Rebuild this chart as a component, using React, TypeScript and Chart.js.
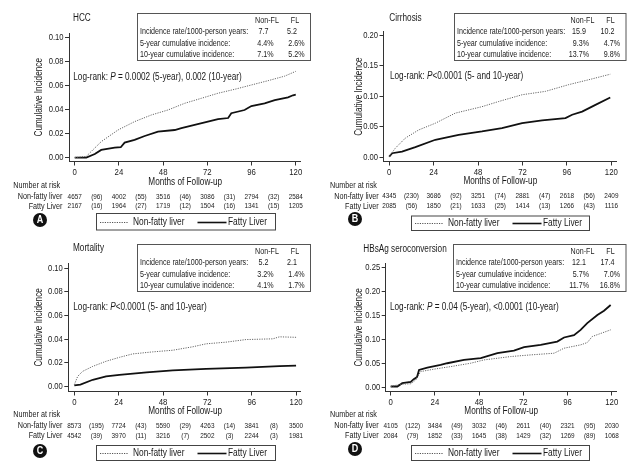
import React, { useEffect, useRef } from "react";
import { Chart, registerables } from "chart.js";

Chart.register(...registerables);

const FONT = "'Liberation Sans', Arial, sans-serif";
const NARROW = 0.82; // emulate a condensed face by horizontal scaling
const fnt = (size: number, extra = "") => `${extra} ${size}px ${FONT}`.trim();

// ---------- Data ----------
const X_TICKS = [0, 24, 48, 72, 96, 120];
const RISK_MONTHS = [0, 12, 24, 36, 48, 60, 72, 84, 96, 108, 120];
const GROUPS = ["Non-fatty liver", "Fatty Liver"];
const INFO_HEADERS = ["Non-FL", "FL"];
const INFO_ROWS = ["Incidence rate/1000-person years:", "5-year cumulative incidence:", "10-year cumulative incidence:"];

// Panel A: HCC
const A_NONFL_X = [0, 6.3, 14.4, 23.5, 32.5, 41.7, 50.6, 59.7, 68.8, 77.8, 86.9, 95.9, 105, 114, 120];
const A_NONFL_Y = [0, 0.001, 0.0133, 0.023, 0.03, 0.0356, 0.0397, 0.0453, 0.0495, 0.0537, 0.057, 0.0606, 0.0642, 0.068, 0.072];
const A_FL_X = [0, 6.3, 10.9, 14.4, 21.7, 25, 27.1, 32.5, 38, 45.2, 54.3, 57.9, 65.1, 72.3, 77.8, 83.3, 85, 92.2, 95.9, 103.1, 108.6, 115.8, 118.5, 120];
const A_FL_Y = [0, 0, 0.003, 0.0064, 0.0083, 0.0086, 0.0125, 0.0147, 0.018, 0.0217, 0.023, 0.0245, 0.0272, 0.03, 0.032, 0.033, 0.037, 0.0397, 0.043, 0.0453, 0.048, 0.0503, 0.052, 0.0525];
const A_RISK_NONFL = ["4657", "(96)", "4002", "(55)", "3516", "(46)", "3086", "(31)", "2794", "(32)", "2584"];
const A_RISK_FL = ["2167", "(16)", "1964", "(27)", "1719", "(12)", "1504", "(16)", "1341", "(15)", "1205"];
const A_INFO = [["7.7", "5.2"], ["4.4%", "2.6%"], ["7.1%", "5.2%"]];
const A_LOGRANK = ["Log-rank: ", "P", " = 0.0002 (5-year), 0.002 (10-year)"];
const A_Y_TICKS = [0, 0.02, 0.04, 0.06, 0.08, 0.1];

// Panel B: Cirrhosis
const B_NONFL_X = [0, 3.3, 8.7, 15.9, 24.9, 35.7, 50.1, 59.2, 71.8, 84.4, 97, 107.8, 119.4];
const B_NONFL_Y = [0.0016, 0.0153, 0.0317, 0.045, 0.056, 0.0725, 0.083, 0.0915, 0.1025, 0.108, 0.119, 0.127, 0.136];
const B_FL_X = [0, 1.6, 6.9, 14.1, 24.9, 37.5, 50.1, 60.9, 71.8, 82.6, 95.2, 98.8, 104.2, 111.4, 119.4];
const B_FL_Y = [0.0016, 0.007, 0.0098, 0.017, 0.029, 0.037, 0.0425, 0.048, 0.056, 0.0605, 0.0644, 0.0698, 0.075, 0.086, 0.098];
const B_RISK_NONFL = ["4345", "(230)", "3686", "(92)", "3251", "(74)", "2881", "(47)", "2618", "(56)", "2409"];
const B_RISK_FL = ["2085", "(56)", "1850", "(21)", "1633", "(25)", "1414", "(13)", "1266", "(43)", "1116"];
const B_INFO = [["15.9", "10.2"], ["9.3%", "4.7%"], ["13.7%", "9.8%"]];
const B_LOGRANK = ["Log-rank: ", "P", "<0.0001 (5- and 10-year)"];
const B_Y_TICKS = [0, 0.05, 0.1, 0.15, 0.2];

// Panel C: Mortality
const C_NONFL_X = [0, 1.8, 4.5, 10, 17.2, 24.4, 31.6, 42.4, 53.3, 64.1, 71.3, 82.1, 92.9, 107.4, 111, 120];
const C_NONFL_Y = [0.0016, 0.0086, 0.0129, 0.0171, 0.0214, 0.0247, 0.0276, 0.0293, 0.0307, 0.0336, 0.0361, 0.0375, 0.0397, 0.0403, 0.042, 0.0416];
const C_FL_X = [0, 3.3, 10, 17.2, 24.4, 39.1, 53.3, 71.3, 92.9, 111, 120];
const C_FL_Y = [0.001, 0.0017, 0.0058, 0.0086, 0.01, 0.012, 0.0137, 0.015, 0.016, 0.0173, 0.0178];
const C_RISK_NONFL = ["8573", "(195)", "7724", "(43)", "5590", "(29)", "4263", "(14)", "3841", "(8)", "3500"];
const C_RISK_FL = ["4542", "(39)", "3970", "(11)", "3216", "(7)", "2502", "(3)", "2244", "(3)", "1981"];
const C_INFO = [["5.2", "2.1"], ["3.2%", "1.4%"], ["4.1%", "1.7%"]];
const C_LOGRANK = ["Log-rank: ", "P", "<0.0001 (5- and 10-year)"];
const C_Y_TICKS = [0, 0.02, 0.04, 0.06, 0.08, 0.1];

// Panel D: HBsAg seroconversion
const D_NONFL_X = [0, 5.4, 10.9, 13.6, 16.3, 23.5, 32.6, 43.4, 50.7, 65.1, 76, 88.7, 94.1, 103.1, 106.7, 109.4, 119.4];
const D_NONFL_Y = [0.0013, 0.006, 0.007, 0.015, 0.0326, 0.0376, 0.043, 0.05, 0.057, 0.064, 0.0675, 0.071, 0.0815, 0.0885, 0.0933, 0.106, 0.12];
const D_FL_X = [0, 3.6, 6.3, 10.9, 12.5, 14.3, 15.4, 19.9, 27.1, 30.7, 39.8, 48.9, 57.9, 66.9, 72.4, 81.4, 90.4, 94.1, 99.5, 103.1, 106.7, 112.2, 115.8, 119.4];
const D_FL_Y = [0.0013, 0.0013, 0.0083, 0.011, 0.0167, 0.021, 0.036, 0.041, 0.0466, 0.05, 0.057, 0.0606, 0.071, 0.0766, 0.0836, 0.0885, 0.0955, 0.104, 0.109, 0.12, 0.134, 0.151, 0.16, 0.172];
const D_RISK_NONFL = ["4105", "(122)", "3484", "(49)", "3032", "(46)", "2611", "(40)", "2321", "(95)", "2030"];
const D_RISK_FL = ["2084", "(79)", "1852", "(33)", "1645", "(38)", "1429", "(32)", "1269", "(89)", "1068"];
const D_INFO = [["12.1", "17.4"], ["5.7%", "7.0%"], ["11.7%", "16.8%"]];
const D_LOGRANK = ["Log-rank: ", "P", " = 0.04 (5-year), <0.0001 (10-year)"];
const D_Y_TICKS = [0, 0.05, 0.1, 0.15, 0.2, 0.25];

// ---------- Panel layout (positions/styles only) ----------
type Panel = {
  key: string; letter: string; title: string; ox: number; oy: number;
  nx: number[]; ny: number[]; fx: number[]; fy: number[];
  riskN: string[]; riskF: string[]; info: string[][]; logrank: string[]; yTicks: number[];
  area: { left: number; right: number; top: number; bottom: number };
  xMin: number; xMax: number; yMin: number; yMax: number;
  titlePos: [number, number]; box: [number, number, number, number]; lrPos: [number, number];
  xTitleY: number; riskHead: [number, number]; riskLabelRight: number; riskRows: [number, number];
  circle: [number, number]; legend: [number, number, number, number];
};

const PANELS: Panel[] = [
  {
    key: "A", letter: "A", title: "HCC", ox: 0, oy: 0,
    nx: A_NONFL_X, ny: A_NONFL_Y, fx: A_FL_X, fy: A_FL_Y, riskN: A_RISK_NONFL, riskF: A_RISK_FL,
    info: A_INFO, logrank: A_LOGRANK, yTicks: A_Y_TICKS,
    area: { left: 69, right: 300, top: 33, bottom: 161.5 },
    xMin: -3.1, xMax: 122.3, yMin: -0.0033, yMax: 0.104,
    titlePos: [73, 18], box: [137.5, 13.5, 173, 47], lrPos: [73.3, 77.3],
    xTitleY: 182.3, riskHead: [13.3, 186], riskLabelRight: 62.3, riskRows: [196.7, 206.3],
    circle: [40, 220], legend: [96.5, 213.5, 179, 16.5],
  },
  {
    key: "B", letter: "B", title: "Cirrhosis", ox: 320, oy: 0,
    nx: B_NONFL_X, ny: B_NONFL_Y, fx: B_FL_X, fy: B_FL_Y, riskN: B_RISK_NONFL, riskF: B_RISK_FL,
    info: B_INFO, logrank: B_LOGRANK, yTicks: B_Y_TICKS,
    area: { left: 63.5, right: 296, top: 31.7, bottom: 161.5 },
    xMin: -3.1, xMax: 122.5, yMin: -0.0065, yMax: 0.2054,
    titlePos: [69.3, 18], box: [134.5, 13.5, 171.5, 47], lrPos: [70, 76.7],
    xTitleY: 181.7, riskHead: [10, 186], riskLabelRight: 58.7, riskRows: [196.3, 206.3],
    circle: [35, 219], legend: [91.5, 216, 178, 14.5],
  },
  {
    key: "C", letter: "C", title: "Mortality", ox: 0, oy: 234,
    nx: C_NONFL_X, ny: C_NONFL_Y, fx: C_FL_X, fy: C_FL_Y, riskN: C_RISK_NONFL, riskF: C_RISK_FL,
    info: C_INFO, logrank: C_LOGRANK, yTicks: C_Y_TICKS,
    area: { left: 68.3, right: 300.5, top: 29.3, bottom: 157.5 },
    xMin: -3.25, xMax: 122.4, yMin: -0.0041, yMax: 0.104,
    titlePos: [73, 14.3], box: [137.5, 10.5, 173, 47], lrPos: [73.3, 73.7],
    xTitleY: 177, riskHead: [13.3, 181], riskLabelRight: 62.3, riskRows: [191.7, 201.7],
    circle: [40, 217], legend: [96.5, 211.5, 179, 15],
  },
  {
    key: "D", letter: "D", title: "HBsAg seroconversion", ox: 320, oy: 234,
    nx: D_NONFL_X, ny: D_NONFL_Y, fx: D_FL_X, fy: D_FL_Y, riskN: D_RISK_NONFL, riskF: D_RISK_FL,
    info: D_INFO, logrank: D_LOGRANK, yTicks: D_Y_TICKS,
    area: { left: 65.7, right: 296, top: 29.3, bottom: 157.5 },
    xMin: -2.7, xMax: 122.3, yMin: -0.0092, yMax: 0.2594,
    titlePos: [43.3, 15], box: [133.5, 10.5, 172.5, 47], lrPos: [70, 73.7],
    xTitleY: 177.7, riskHead: [10, 181], riskLabelRight: 58.7, riskRows: [191.7, 201.7],
    circle: [35, 215], legend: [91.5, 211.5, 178, 15],
  },
];

const W = 320;
const H = 234;
const TEXT = "#1a1a1a";

// draw condensed text: returns drawn width
function txt(
  ctx: CanvasRenderingContext2D, s: string, x: number, y: number,
  align: CanvasTextAlign, size: number, extra = "", squeeze = NARROW,
): number {
  ctx.save();
  ctx.font = fnt(size, extra);
  ctx.textAlign = align;
  ctx.textBaseline = "middle";
  ctx.translate(x, y);
  ctx.scale(squeeze, 1);
  ctx.fillText(s, 0, 0);
  const w = ctx.measureText(s).width * squeeze;
  ctx.restore();
  return w;
}

function makeDecor(p: Panel) {
  return {
    id: "decor" + p.key,
    afterDraw(chart: any) {
      const ctx: CanvasRenderingContext2D = chart.ctx;
      const xs = chart.scales.x;
      const ys = chart.scales.y;
      const ca = chart.chartArea;
      ctx.save();
      ctx.fillStyle = TEXT;

      // tick labels
      X_TICKS.forEach((v) => txt(ctx, String(v), xs.getPixelForValue(v), ca.bottom + 10.5, "center", 9.5));
      p.yTicks.forEach((v) => txt(ctx, v.toFixed(2), ca.left - 5.5, ys.getPixelForValue(v), "right", 9.3));

      // title
      txt(ctx, p.title, p.titlePos[0], p.titlePos[1], "left", 10);

      // y title (rotated)
      ctx.save();
      ctx.translate(38.8, (ca.top + ca.bottom) / 2);
      ctx.rotate(-Math.PI / 2);
      txt(ctx, "Cumulative Incidence", 0, 0, "center", 10);
      ctx.restore();

      // x title
      const x0 = xs.getPixelForValue(0);
      const x120 = xs.getPixelForValue(120);
      txt(ctx, "Months of Follow-up", (x0 + x120) / 2, p.xTitleY, "center", 10);

      // info box
      const [bx, by, bw, bh] = p.box;
      ctx.strokeStyle = "#555";
      ctx.lineWidth = 1;
      ctx.strokeRect(bx, by, bw, bh);
      txt(ctx, INFO_HEADERS[0], bx + bw - 43.5, by + 7.3, "center", 8.7);
      txt(ctx, INFO_HEADERS[1], bx + bw - 15.5, by + 7.3, "center", 8.7);
      const rowY = [by + 17.7, by + 30, by + 41];
      INFO_ROWS.forEach((r, i) => {
        txt(ctx, r, bx + 2.5, rowY[i], "left", 8.7);
        if (i === 0) {
          txt(ctx, p.info[i][0], bx + bw - 47, rowY[i], "center", 8.7);
          txt(ctx, p.info[i][1], bx + bw - 18.5, rowY[i], "center", 8.7);
        } else {
          txt(ctx, p.info[i][0], bx + bw - 37, rowY[i], "right", 8.7);
          txt(ctx, p.info[i][1], bx + bw - 6, rowY[i], "right", 8.7);
        }
      });

      // log-rank text with italic P
      let lx = p.lrPos[0];
      p.logrank.forEach((part, i) => {
        lx += txt(ctx, part, lx, p.lrPos[1], "left", 10, i === 1 ? "italic" : "");
      });

      // risk table
      txt(ctx, "Number at risk", p.riskHead[0], p.riskHead[1], "left", 8.8);
      txt(ctx, GROUPS[0], p.riskLabelRight, p.riskRows[0], "right", 8.8);
      txt(ctx, GROUPS[1], p.riskLabelRight, p.riskRows[1], "right", 8.8);
      RISK_MONTHS.forEach((m, i) => {
        const px = xs.getPixelForValue(m);
        txt(ctx, p.riskN[i], px, p.riskRows[0], "center", 7.8);
        txt(ctx, p.riskF[i], px, p.riskRows[1], "center", 7.8);
      });

      // circle letter
      ctx.beginPath();
      ctx.arc(p.circle[0], p.circle[1], 7, 0, Math.PI * 2);
      ctx.fillStyle = "#111";
      ctx.fill();
      ctx.fillStyle = "#fff";
      txt(ctx, p.letter, p.circle[0], p.circle[1] + 0.5, "center", 10, "bold", 0.9);
      ctx.fillStyle = TEXT;

      // legend box
      const [gx, gy, gw, gh] = p.legend;
      ctx.strokeStyle = "#444";
      ctx.lineWidth = 1;
      ctx.strokeRect(gx, gy, gw, gh);
      const gyc = Math.round(gy + gh / 2) + 0.5;
      ctx.beginPath();
      ctx.setLineDash([1.2, 1.2]);
      ctx.strokeStyle = "#555";
      ctx.moveTo(gx + 3.5, gyc);
      ctx.lineTo(gx + 31.5, gyc);
      ctx.stroke();
      ctx.setLineDash([]);
      ctx.beginPath();
      ctx.strokeStyle = "#111";
      ctx.lineWidth = 1.6;
      ctx.moveTo(gx + 101, gyc);
      ctx.lineTo(gx + 130, gyc);
      ctx.stroke();
      txt(ctx, GROUPS[0], gx + 36.5, gyc, "left", 10.2);
      txt(ctx, GROUPS[1], gx + 131.5, gyc, "left", 10.2);

      ctx.restore();
    },
  };
}

function PanelChart({ p }: { p: Panel }) {
  const ref = useRef<HTMLCanvasElement | null>(null);
  useEffect(() => {
    if (!ref.current) return;
    const a = p.area;
    const chart = new Chart(ref.current, {
      type: "line",
      data: {
        datasets: [
          {
            label: GROUPS[0],
            data: p.nx.map((x, i) => ({ x, y: p.ny[i] })),
            borderColor: "#666",
            borderWidth: 1,
            borderDash: [1.2, 1.2],
            pointRadius: 0,
            tension: 0,
            fill: false,
          },
          {
            label: GROUPS[1],
            data: p.fx.map((x, i) => ({ x, y: p.fy[i] })),
            borderColor: "#111",
            borderWidth: 1.8,
            pointRadius: 0,
            tension: 0,
            fill: false,
          },
        ],
      },
      options: {
        responsive: false,
        animation: false,
        devicePixelRatio: 1,
        layout: { padding: { left: 0, right: W - a.right, top: a.top, bottom: 0 } },
        plugins: { legend: { display: false }, tooltip: { enabled: false }, title: { display: false } },
        scales: {
          x: {
            type: "linear",
            min: p.xMin,
            max: p.xMax,
            afterBuildTicks: (s: any) => { s.ticks = X_TICKS.map((v) => ({ value: v })); },
            afterFit: (s: any) => { s.height = H - a.bottom; },
            ticks: { font: { family: FONT, size: 9 }, color: "rgba(0,0,0,0)", padding: 1, maxRotation: 0, autoSkip: false, callback: (v: any) => String(v) },
            grid: { display: true, drawOnChartArea: false, drawTicks: true, tickLength: 4, color: "#333" },
            border: { display: true, color: "#333", width: 1 },
          },
          y: {
            type: "linear",
            min: p.yMin,
            max: p.yMax,
            afterBuildTicks: (s: any) => { s.ticks = p.yTicks.map((v) => ({ value: v })); },
            afterFit: (s: any) => { s.width = a.left; },
            ticks: { font: { family: FONT, size: 9 }, color: "rgba(0,0,0,0)", padding: 2, autoSkip: false, callback: (v: any) => Number(v).toFixed(2) },
            grid: { display: true, drawOnChartArea: false, drawTicks: true, tickLength: 4, color: "#333" },
            border: { display: true, color: "#333", width: 1 },
          },
        },
      },
      plugins: [makeDecor(p)],
    } as any);
    return () => chart.destroy();
  }, [p]);
  return (
    <canvas
      ref={ref}
      width={W}
      height={H}
      style={{ position: "absolute", left: p.ox, top: p.oy, width: W, height: H }}
    />
  );
}

export default function App() {
  useEffect(() => {
    document.body.style.margin = "0";
    document.body.style.background = "#fff";
  }, []);
  return (
    <div style={{ position: "relative", width: 640, height: 468, background: "#fff", overflow: "hidden" }}>
      {PANELS.map((p) => (
        <PanelChart key={p.key} p={p} />
      ))}
    </div>
  );
}
